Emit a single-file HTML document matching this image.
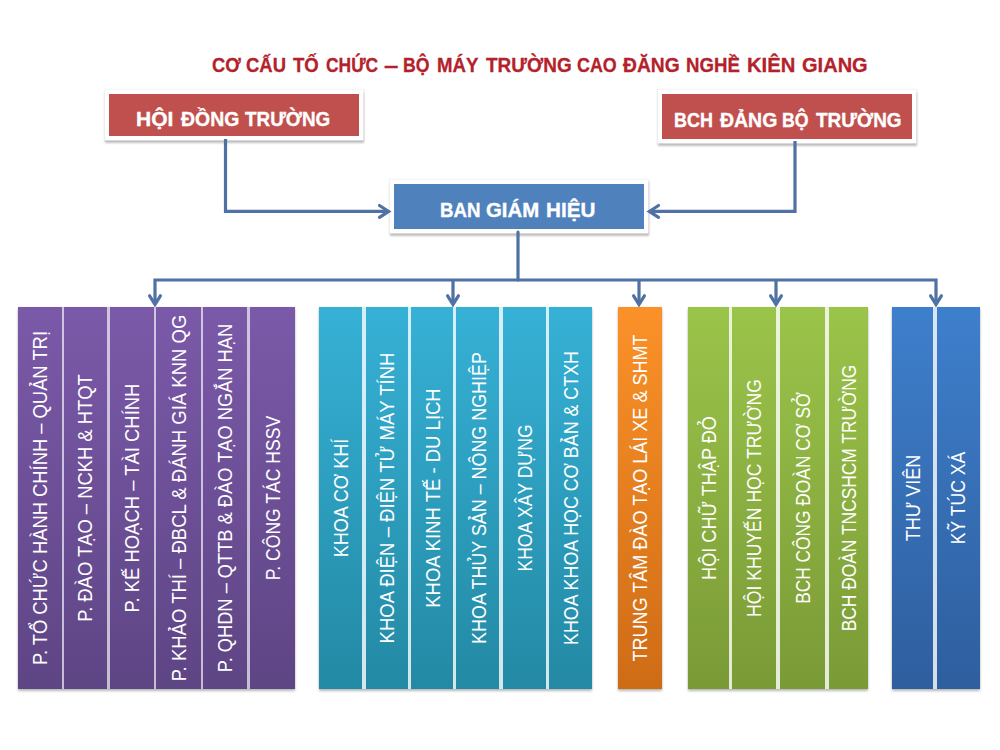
<!DOCTYPE html>
<html><head><meta charset="utf-8">
<style>
html,body{margin:0;padding:0;background:#fff;width:1000px;height:750px;overflow:hidden;position:relative;font-family:"Liberation Sans",sans-serif;}
.t{position:absolute;white-space:nowrap;}
#title span{position:absolute;top:53px;-webkit-text-stroke:0.3px #B3222B;font-size:20.5px;font-weight:bold;color:#B3222B;line-height:24px;white-space:nowrap;transform-origin:0 0;transform:scaleX(var(--s,1));}
.hb{position:absolute;box-shadow:0 0 0 4.5px #fff,0 0 1px 5px rgba(0,0,0,0.07),0 2.5px 2px 4.5px rgba(0,0,0,0.25);color:#fff;font-weight:bold;font-size:19.5px;line-height:20px;}
#hw span{position:absolute;white-space:nowrap;color:#fff;-webkit-text-stroke:0.35px #fff;font-weight:bold;font-size:19.5px;line-height:20px;transform-origin:0 0;transform:scaleX(var(--s,1));}
.red{background:#C0504D;}
.blu{background:#4F81BD;}
.col{position:absolute;top:307px;height:383px;}
.grp{position:absolute;top:307.3px;height:382.2px;box-shadow:0 0 1px rgba(0,0,0,0.12),0 2px 2.5px rgba(0,0,0,0.28);}
.sep{position:absolute;top:0;bottom:0;width:2.8px;background:rgba(255,255,255,0.65);}
.gr .sep,.bl .sep,.cy .sep{width:3.2px;margin-left:-0.2px;background:rgba(255,255,255,0.8);}
.col span{position:absolute;left:50%;top:190.5px;white-space:nowrap;color:#fff;font-size:20px;line-height:20px;transform:translate(-50%,-50%) rotate(-90deg) scaleX(var(--s,1));}
.pu{background:linear-gradient(#7B59A9,#5E4584);}
.cy{background:linear-gradient(#36B1D6,#2389A4);}
.or{background:linear-gradient(#FB9128,#CE6C16);}
.gr{background:linear-gradient(#9BC44A,#7A9A36);}
.bl{background:linear-gradient(#3E7FCC,#2E5E9E);}
svg{position:absolute;left:0;top:0;}
</style></head><body>
<div id="title"><span style="left:211.9px;--s:0.890">CƠ</span><span style="left:245.5px;--s:0.900">CẤU</span><span style="left:292.6px;--s:0.907">TỐ</span><span style="left:325.5px;--s:0.850">CHỨC</span><span style="left:383.9px;--s:1.260">–</span><span style="left:403.1px;--s:0.862">BỘ</span><span style="left:436.9px;--s:0.909">MÁY</span><span style="left:485.6px;--s:0.925">TRƯỜNG</span><span style="left:577.3px;--s:0.873">CAO</span><span style="left:622.6px;--s:0.939">ĐĂNG</span><span style="left:686.1px;--s:0.910">NGHỀ</span><span style="left:747.2px;--s:0.987">KIÊN</span><span style="left:802.0px;--s:0.978">GIANG</span></div>

<div class="hb red" style="left:109px;top:94px;width:250px;height:42px;"></div>
<div class="hb red" style="left:662px;top:94px;width:250px;height:45px;"></div>
<div class="hb blu" style="left:394px;top:184px;width:250px;height:45px;"></div>

<div id="hw"><span style="left:135.7px;top:109.4px;--s:1.079">HỘI</span><span style="left:181.2px;top:109.4px;--s:0.996">ĐỒNG</span><span style="left:245.4px;top:109.4px;--s:0.968">TRƯỜNG</span><span style="left:673.5px;top:109.6px;--s:0.920">BCH</span><span style="left:719.6px;top:109.6px;--s:0.998">ĐẢNG</span><span style="left:782.0px;top:109.6px;--s:0.911">BỘ</span><span style="left:815.7px;top:109.6px;--s:0.972">TRƯỜNG</span><span style="left:439.8px;top:200.2px;--s:0.958">BAN</span><span style="left:486.2px;top:200.2px;--s:1.045">GIÁM</span><span style="left:546.3px;top:200.2px;--s:1.060">HIỆU</span></div>
<svg width="1000" height="750" viewBox="0 0 1000 750">
<g fill="none" stroke="#4F71A3" stroke-width="3.2" stroke-linecap="round" stroke-linejoin="miter" stroke-miterlimit="10">
<path d="M225.5 139 V211.4 H388" stroke-linecap="butt"/>
<path d="M379.5 205.5 L388.6 211.4 L379.5 217.3"/>
<path d="M795 141 V211.4 H650" stroke-linecap="butt"/>
<path d="M658.5 205.5 L649.4 211.4 L658.5 217.3"/>
<path d="M518 232 V280"/>
<path d="M155 304 V280 H936 V304" stroke-linecap="butt"/>
<path d="M453 280 V303" stroke-linecap="butt"/>
<path d="M639 280 V303" stroke-linecap="butt"/>
<path d="M776 280 V303" stroke-linecap="butt"/>
<path d="M149.6 295.8 L155 304.4 L160.4 295.8"/>
<path d="M447.6 295.8 L453 304.4 L458.4 295.8"/>
<path d="M633.6 295.8 L639 304.4 L644.4 295.8"/>
<path d="M770.6 295.8 L776 304.4 L781.4 295.8"/>
<path d="M930.6 295.8 L936 304.4 L941.4 295.8"/>
</g>
</svg>

<div class="grp pu" style="left:18px;width:276.7px;"><div class="sep" style="left:43.5px"></div><div class="sep" style="left:89.1px"></div><div class="sep" style="left:135.6px"></div><div class="sep" style="left:182.5px"></div><div class="sep" style="left:229.4px"></div></div>
<div class="grp cy" style="left:319.3px;width:273.1px;"><div class="sep" style="left:43.3px"></div><div class="sep" style="left:88.6px"></div><div class="sep" style="left:133.9px"></div><div class="sep" style="left:180.3px"></div><div class="sep" style="left:226.5px"></div></div>
<div class="grp or" style="left:618px;width:44.0px;"></div>
<div class="grp gr" style="left:687.6px;width:180.4px;"><div class="sep" style="left:41.4px"></div><div class="sep" style="left:89.0px"></div><div class="sep" style="left:138.0px"></div></div>
<div class="grp bl" style="left:892px;width:87.6px;"><div class="sep" style="left:41.6px"></div></div>
<!-- purple -->
<div class="col" style="left:18px;width:44px;"><span style="--s:0.918">P. TỔ CHỨC HÀNH CHÍNH – QUẢN TRỊ</span></div>
<div class="col" style="left:63.2px;width:44px;"><span style="--s:0.919">P. ĐÀO TẠO – NCKH &amp; HTQT</span></div>
<div class="col" style="left:110.4px;width:44px;"><span style="--s:0.922">P. KẾ HOẠCH – TÀI CHÍNH</span></div>
<div class="col" style="left:156.9px;width:44px;"><span style="--s:0.925">P. KHẢO THÍ – ĐBCL &amp; ĐÁNH GIÁ KNN QG</span></div>
<div class="col" style="left:203.4px;width:44px;"><span style="--s:0.913">P. QHDN – QTTB &amp; ĐÀO TẠO NGẮN HẠN</span></div>
<div class="col" style="left:250.5px;width:44px;"><span style="--s:0.878">P. CÔNG TÁC HSSV</span></div>
<!-- cyan -->
<div class="col" style="left:319px;width:43.5px;"><span style="--s:0.902">KHOA CƠ KHÍ</span></div>
<div class="col" style="left:365px;width:43.5px;"><span style="--s:0.927">KHOA ĐIỆN – ĐIỆN TỬ MÁY TÍNH</span></div>
<div class="col" style="left:411px;width:43.5px;"><span style="--s:0.924">KHOA KINH TẾ - DU LỊCH</span></div>
<div class="col" style="left:457px;width:43.5px;"><span style="--s:0.895">KHOA THỦY SẢN – NÔNG NGHIỆP</span></div>
<div class="col" style="left:503px;width:43.5px;"><span style="--s:0.876">KHOA XÂY DỰNG</span></div>
<div class="col" style="left:549px;width:43.5px;"><span style="--s:0.892">KHOA KHOA HỌC CƠ BẢN &amp; CTXH</span></div>
<!-- orange -->
<div class="col" style="left:618px;width:44px;"><span style="--s:0.902">TRUNG TÂM ĐÀO TẠO LÁI XE &amp; SHMT</span></div>
<!-- green -->
<div class="col" style="left:688px;width:41px;"><span style="--s:0.906">HỘI CHỮ THẬP ĐỎ</span></div>
<div class="col" style="left:732.5px;width:43.5px;"><span style="--s:0.879">HỘI KHUYẾN HỌC TRƯỜNG</span></div>
<div class="col" style="left:780.5px;width:44.5px;"><span style="--s:0.866">BCH CÔNG ĐOÀN CƠ SỞ</span></div>
<div class="col" style="left:829px;width:39px;"><span style="--s:0.869">BCH ĐOÀN TNCSHCM TRƯỜNG</span></div>
<!-- blue -->
<div class="col" style="left:892px;width:41.5px;"><span style="--s:0.903">THƯ VIÊN</span></div>
<div class="col" style="left:937px;width:42.5px;"><span style="--s:0.878">KỸ TÚC XÁ</span></div>
</body></html>
